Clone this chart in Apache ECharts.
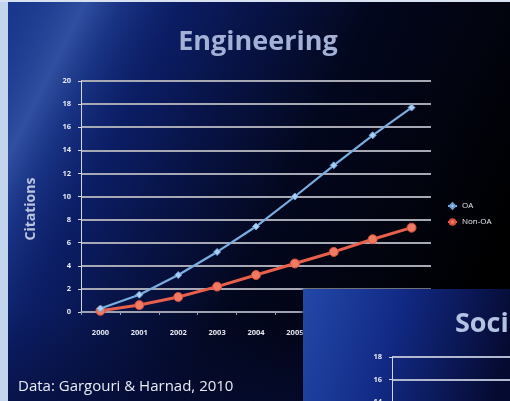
<!DOCTYPE html>
<html>
<head>
<meta charset="utf-8">
<script src="https://cdn.jsdelivr.net/npm/echarts@6/dist/echarts.min.js"></script>
<style>
  html, body { margin: 0; padding: 0; background: #000; }
  #chart { width: 510px; height: 401px; }
</style>
</head>
<body>
<div id="chart"></div>
<script>
// Citations per year, open access vs. non open access (Engineering)
const years = ['2000', '2001', '2002', '2003', '2004', '2005', '2006', '2007', '2008'];
const oaValues = [0.3, 1.5, 3.2, 5.2, 7.4, 10.0, 12.7, 15.3, 17.7];
const nonOaValues = [0.1, 0.6, 1.3, 2.2, 3.2, 4.2, 5.2, 6.3, 7.3];
const seriesNames = ['OA', 'Non-OA'];
const yTicks = { min: 0, max: 20, step: 2 };
// next slide peeking in from the lower right
const nextTitle = 'Social Sciences';
const nextTicks = { min: 0, max: 18, step: 2 };

const chart = echarts.init(document.getElementById('chart'), null, { renderer: 'canvas' });

const tickLabel = { color: '#e6e9f2', fontSize: 7.5, fontWeight: 'bold', fontFamily: 'Open Sans' };

chart.setOption({
  backgroundColor: '#02030a',
  animation: false,
  graphic: [
    // slide background
    { type: 'rect', z: -10, shape: { x: 0, y: 0, width: 510, height: 401 },
      style: { fill: new echarts.graphic.LinearGradient(0, 0, 1, 0.6, [
        { offset: 0, color: '#16358a' },
        { offset: 0.3, color: '#0b1c62' },
        { offset: 0.6, color: '#03071e' },
        { offset: 1, color: '#000000' }
      ]) } },
    // soft light streak running down to the left
    { type: 'rect', z: -9, shape: { x: 0, y: 0, width: 510, height: 401 },
      style: { fill: new echarts.graphic.LinearGradient(10, -45, 230, 65, [
        { offset: 0, color: 'rgba(50,90,190,0)' },
        { offset: 0.15, color: 'rgba(60,105,200,0.15)' },
        { offset: 0.36, color: 'rgba(100,140,225,0.38)' },
        { offset: 0.5, color: 'rgba(60,100,200,0.22)' },
        { offset: 0.72, color: 'rgba(30,60,150,0)' }
      ], true) } },
    // dark navy haze along the bottom
    { type: 'rect', z: -8, shape: { x: 0, y: 310, width: 510, height: 91 },
      style: { fill: new echarts.graphic.LinearGradient(0, 0, 0, 1, [
        { offset: 0, color: 'rgba(6,14,60,0)' },
        { offset: 1, color: 'rgba(6,14,60,0.55)' }
      ]) } },
    // window frame: pale strip on the left and top
    { type: 'rect', z: 100, shape: { x: 0, y: 0, width: 8, height: 401 }, style: { fill: '#c3d5ec' } },
    { type: 'rect', z: 100, shape: { x: 0, y: 0, width: 510, height: 2 }, style: { fill: '#d8e2f0' } },
    // title
    { type: 'text', z: 5, x: 258, y: 42,
      style: { text: 'Engineering', fill: '#a3b1d6', font: 'bold 27px "Open Sans"', align: 'center', verticalAlign: 'middle' } },
    // axis title
    { type: 'text', z: 5, x: 31, y: 209, rotation: Math.PI / 2,
      style: { text: 'Citations', fill: '#b8c3dc', font: 'bold 14px "Open Sans"', align: 'center', verticalAlign: 'middle' } },
    // source line
    { type: 'text', z: 5, x: 18, y: 387,
      style: { text: 'Data: Gargouri & Harnad, 2010', fill: '#e8ecf4', font: '15px "Open Sans"', verticalAlign: 'middle' } },
    // next slide panel
    { type: 'rect', z: 50, shape: { x: 303, y: 289, width: 207, height: 112 },
      style: { fill: new echarts.graphic.LinearGradient(0, 0, 1, 0.5, [
        { offset: 0, color: '#2348a8' },
        { offset: 0.45, color: '#122a86' },
        { offset: 1, color: '#050a30' }
      ]), shadowBlur: 4, shadowColor: 'rgba(0,0,0,0.8)' } },
    { type: 'text', z: 55, x: 455, y: 324,
      style: { text: nextTitle, fill: '#b4c2e4', font: 'bold 27px "Open Sans"', verticalAlign: 'middle' } }
  ],
  legend: {
    orient: 'vertical',
    left: 442,
    top: 197,
    itemWidth: 9,
    itemHeight: 7,
    itemGap: 8,
    textStyle: { color: '#e6e9f2', fontSize: 8, fontFamily: 'Open Sans' },
    data: seriesNames
  },
  grid: [
    { left: 81, right: 79, top: 81, bottom: 89 },
    { left: 392, top: 357, width: 400, height: 204, outerBoundsMode: 'none' }
  ],
  xAxis: [
    {
      type: 'category', gridIndex: 0, data: years, boundaryGap: true,
      axisLine: { show: true, lineStyle: { color: '#9a9fb0', width: 1.5 } },
      axisTick: { show: true, length: 3, lineStyle: { color: '#9a9fb0' } },
      axisLabel: Object.assign({ margin: 17 }, tickLabel)
    },
    { type: 'category', gridIndex: 1, data: years, show: false }
  ],
  yAxis: [
    {
      type: 'value', gridIndex: 0, min: yTicks.min, max: yTicks.max, interval: yTicks.step,
      axisLine: { show: true, lineStyle: { color: '#d0d6e6', width: 1 } },
      axisTick: { show: true, length: 3, lineStyle: { color: '#d0d6e6' } },
      axisLabel: Object.assign({ margin: 10 }, tickLabel),
      splitLine: { show: true, lineStyle: { color: '#a6a8b4', width: 2 } }
    },
    {
      type: 'value', gridIndex: 1, min: nextTicks.min, max: nextTicks.max, interval: nextTicks.step,
      z: 60,
      axisLine: { show: true, lineStyle: { color: '#d0d6e6', width: 1 } },
      axisTick: { show: true, length: 3, lineStyle: { color: '#d0d6e6' } },
      axisLabel: Object.assign({ margin: 10 }, tickLabel),
      splitLine: { show: true, lineStyle: { color: '#b0b8d0', width: 2 } }
    }
  ],
  series: [
    {
      name: seriesNames[0], type: 'line', data: oaValues,
      xAxisIndex: 0, yAxisIndex: 0, z: 4,
      symbol: 'diamond', symbolSize: 7,
      lineStyle: { color: '#7aaee0', width: 2.2 },
      itemStyle: { color: '#a9cff2', borderColor: '#6d9fd6', borderWidth: 1 }
    },
    {
      name: seriesNames[1], type: 'line', data: nonOaValues,
      xAxisIndex: 0, yAxisIndex: 0, z: 3,
      symbol: 'circle', symbolSize: 9,
      lineStyle: { color: '#e8604c', width: 3 },
      itemStyle: { color: '#f07a62', borderColor: '#d9503c', borderWidth: 1 }
    }
  ]
});
</script>
</body>
</html>
